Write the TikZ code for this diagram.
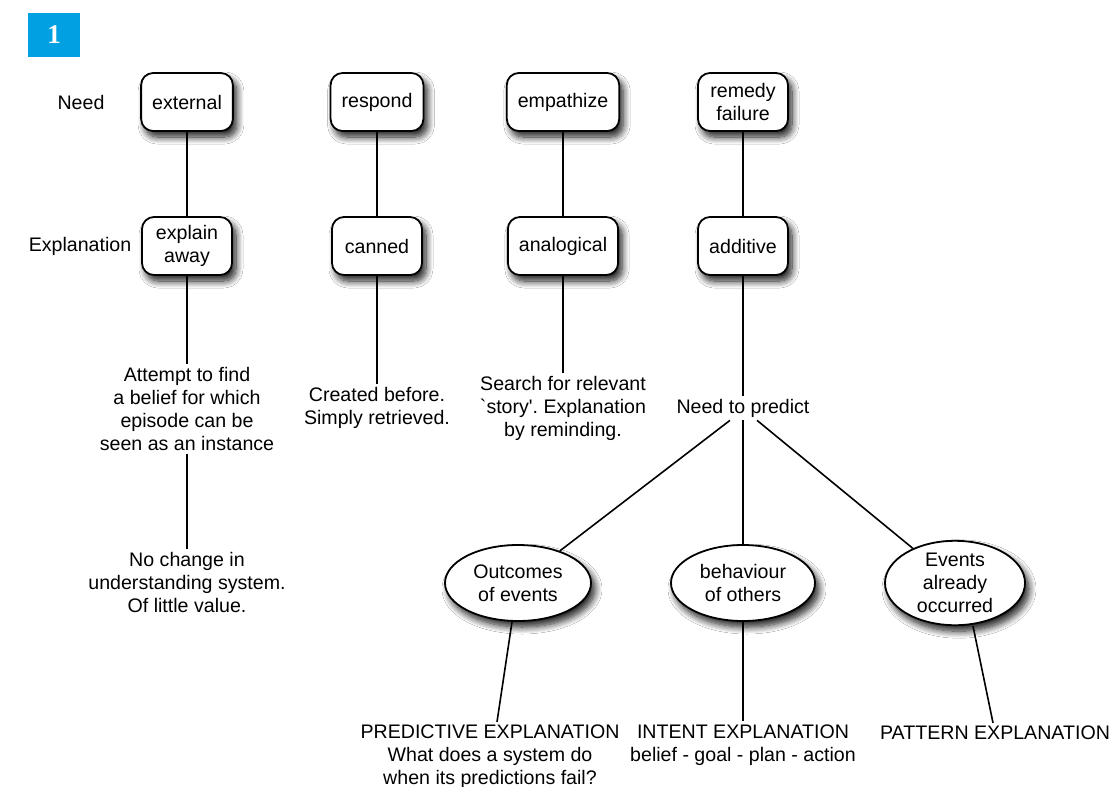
\documentclass[tikz,border=0pt]{standalone}
\usepackage{fontspec}
\setmainfont{Liberation Sans}
\newfontfamily\plainsans{Liberation Sans}
\newfontfamily\badgefont{Liberation Serif}
\usetikzlibrary{shapes.geometric,shadows.blur}
\definecolor{badgeblue}{HTML}{00A0E3}
\frenchspacing
\tikzset{
  txt/.style={font=\plainsans\frenchspacing\fontsize{19.6}{23}\selectfont, align=center, inner sep=3pt},
  sh/.style={blur shadow={shadow xshift=4pt, shadow yshift=-6pt, shadow blur radius=7pt, shadow blur steps=10, shadow opacity=90}},
  rbox/.style={txt, draw, line width=1.8pt, rounded corners=12pt, fill=white, sh,
               minimum width=90pt, minimum height=58pt, inner xsep=11pt},
  ell/.style={txt, ellipse, draw, line width=1.8pt, fill=white, sh, inner sep=0pt},
  conn/.style={line width=1.6pt}
}
\begin{document}
\begin{tikzpicture}[x=1pt,y=-1pt]
\useasboundingbox[fill=white] (0,0) rectangle (1114,787);
% badge
\node[fill=badgeblue, minimum width=52pt, minimum height=44pt, inner sep=0pt,
      text=white, font=\badgefont\bfseries\fontsize{27}{27}\selectfont, anchor=center]
      (badge) at (54,35) {1};
% row labels
\node[txt] (needlbl) at (81,102) {Need};
\node[txt] (expllbl) at (80,246) {Explanation};
% boxes
\node[rbox] (ext) at (187,102) {external};
\node[rbox] (resp) at (377,102) {respond};
\node[rbox] (emp) at (563,102) {empathize};
\node[rbox] (rem) at (743,102) {remedy\\failure};
\node[rbox] (expa) at (187,246) {explain\\away};
\node[rbox] (can) at (377,246) {canned};
\node[rbox] (ana) at (563,246) {analogical};
\node[rbox] (add) at (743,246) {additive};
% texts
\node[txt] (t1) at (187,409) {Attempt to find\\a belief for which\\episode can be\\seen as an instance};
\node[txt] (t2) at (187,582) {No change in\\understanding system.\\Of little value.};
\node[txt] (cre) at (377,408) {Created before.\\Simply retrieved.};
\node[txt] (sea) at (563,408) {Search for relevant\\`story'. Explanation\\by reminding.};
\node[txt] (np) at (743,408) {Need to predict};
% ellipses
\node[ell, minimum width=146pt, minimum height=76pt] (out) at (518,583) {Outcomes\\of events};
\node[ell, minimum width=144pt, minimum height=76pt] (beh) at (743,583) {behaviour\\of others};
\node[ell, minimum width=140pt, minimum height=84pt] (evt) at (955,583) {Events\\already\\occurred};
% bottom texts
\node[txt] (pred) at (490,757) {PREDICTIVE EXPLANATION\\What does a system do\\when its predictions fail?};
\node[txt] (intent) at (743,745) {INTENT EXPLANATION\\belief - goal - plan - action};
\node[txt] (pat) at (995,733) {PATTERN EXPLANATION};
% connectors
\draw[conn] (ext) -- (expa);
\draw[conn] (resp) -- (can);
\draw[conn] (emp) -- (ana);
\draw[conn] (rem) -- (add);
\draw[conn] (expa) -- (t1);
\draw[conn] (t1) -- (t2);
\draw[conn] (can) -- (cre);
\draw[conn] (ana) -- (sea);
\draw[conn] (add) -- (np);
\draw[conn] ([xshift=-13pt]np.south) -- (out);
\draw[conn] (np.south) -- (beh);
\draw[conn] ([xshift=14pt]np.south) -- (evt);
\draw[conn] ([xshift=-6pt]out.south) -- ([xshift=7pt]pred.north);
\draw[conn] (beh) -- (intent);
\draw[conn] ([xshift=18pt]evt.south) -- ([xshift=-2pt]pat.north);
\end{tikzpicture}
\end{document}
